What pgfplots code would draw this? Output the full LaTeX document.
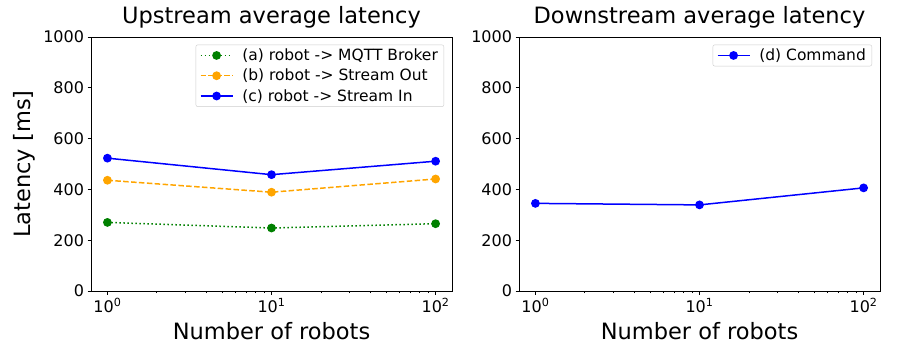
\documentclass[border=0pt]{standalone}
\usepackage{fontspec}
\setmainfont{DejaVu Sans}
\usepackage{pgfplots}
\pgfplotsset{compat=1.18}
\definecolor{mplgreen}{HTML}{008000}
\definecolor{mplorange}{HTML}{FFA500}
\definecolor{mplblue}{HTML}{0000FF}

\pgfplotsset{latencyax/.style={
  scale only axis, width=361pt, height=254pt,
  xmin=0.7943, xmax=125.89, ymin=0, ymax=1000,
  xtick={1,10,100},
  xticklabels={10\textsuperscript{0},10\textsuperscript{1},10\textsuperscript{2}},
  minor xtick={2,3,4,5,6,7,8,9,20,30,40,50,60,70,80,90},
  ytick={0,200,400,600,800,1000},
  tick align=outside, xtick pos=left, ytick pos=left,
  major tick length=3.5pt, minor tick length=2pt,
  every tick/.style={black, line width=0.8pt},
  axis line style={line width=0.8pt},
  tick label style={font=\fontsize{16}{19}\selectfont},
  yticklabel style={/pgf/number format/assume math mode=true,
    /pgf/number format/1000 sep={}},
  xlabel={Number of robots},
  xlabel style={font=\fontsize{22.5}{26}\selectfont,
    at={(axis description cs:0.5,0)}, anchor=base, yshift=-48pt},
  title style={font=\fontsize{22.5}{26}\selectfont,
    at={(axis description cs:0.5,1)}, anchor=base, yshift=8pt},
  legend style={font=\fontsize{15.5}{18}\selectfont, draw=black!20,
    rounded corners=2pt, at={(axis description cs:0.978,0.97)},
    anchor=north east, cells={anchor=west}, inner xsep=4pt, inner ysep=2pt,
    row sep=3pt, column sep=7pt},
  legend image code/.code={\draw[mark repeat=2,mark phase=2]
    plot coordinates {(0pt,0pt) (16pt,0pt) (32pt,0pt)};},
  every axis plot/.append style={line width=1.5pt, line cap=butt,
    mark=*, mark size=3.6pt, mark options={solid}},
}}

\begin{document}
\begin{tikzpicture}
\begin{semilogxaxis}[latencyax, at={(91pt,69pt)}, anchor=south west,
  title={Upstream average latency},
  ylabel={Latency [ms]},
  ylabel style={font=\fontsize{22.5}{26}\selectfont,
    at={(axis description cs:-0.145,0.5)}, anchor=south}]
\addplot[mplgreen, dash pattern=on 1.5pt off 2.5pt] coordinates {
(1,270) (10,248) (100,265)
};
\addlegendentry{(a) robot -> MQTT Broker}
\addplot[mplorange, dash pattern=on 5.5pt off 2.4pt] coordinates {
(1,436) (10,389) (100,441)
};
\addlegendentry{(b) robot -> Stream Out}
\addplot[mplblue] coordinates {
(1,523) (10,458) (100,511)
};
\addlegendentry{(c) robot -> Stream In}
\end{semilogxaxis}
\begin{semilogxaxis}[latencyax, at={(519pt,69pt)}, anchor=south west,
  title={Downstream average latency}]
\addplot[mplblue] coordinates {
(1,345) (10,339) (100,406)
};
\addlegendentry{(d) Command}
\end{semilogxaxis}
\path (0pt,0pt) rectangle (900pt,360pt);
\end{tikzpicture}
\end{document}
